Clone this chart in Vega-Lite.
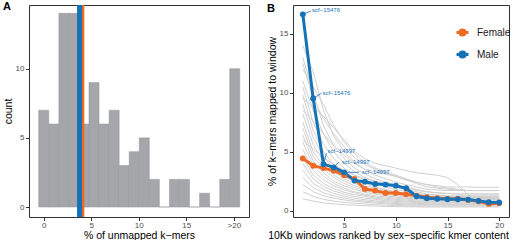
{
"$schema":"https://vega.github.io/schema/vega-lite/v6.json",
"padding":{"left":2,"top":0,"right":0,"bottom":0},
"spacing":16,
"resolve":{"scale":{"color":"independent"},"legend":{"color":"independent"}},
"config":{
 "font":"Liberation Sans",
 "view":{"stroke":"#333333","strokeWidth":1},
 "axis":{"domain":false,"grid":false,"tickColor":"#333333","tickSize":3.5,"tickWidth":1,"labelColor":"#4D4D4D","labelFontSize":8,"labelPadding":1,"titleFontSize":10.5,"titleFontWeight":"normal","titleColor":"#000000","titlePadding":1},
 "axisY":{"labelPadding":1.5,"titlePadding":2},
 "title":{"fontSize":11,"fontWeight":"bold","anchor":"start","frame":"bounds","offset":0,"baseline":"top","dy":13,"color":"#000000"}
},
"datasets":{
 "hist":[
  {"bin_start":-0.53,"bin_end":0.53,"count":7},
  {"bin_start":0.53,"bin_end":1.59,"count":6},
  {"bin_start":1.59,"bin_end":2.65,"count":14},
  {"bin_start":2.65,"bin_end":3.70,"count":14},
  {"bin_start":3.70,"bin_end":4.76,"count":6},
  {"bin_start":4.76,"bin_end":5.82,"count":9},
  {"bin_start":5.82,"bin_end":6.88,"count":6},
  {"bin_start":6.88,"bin_end":7.94,"count":7},
  {"bin_start":7.94,"bin_end":8.99,"count":3},
  {"bin_start":8.99,"bin_end":10.05,"count":4},
  {"bin_start":10.05,"bin_end":11.11,"count":5},
  {"bin_start":11.11,"bin_end":12.17,"count":2},
  {"bin_start":12.17,"bin_end":13.23,"count":0},
  {"bin_start":13.23,"bin_end":14.28,"count":2},
  {"bin_start":14.28,"bin_end":15.34,"count":2},
  {"bin_start":15.34,"bin_end":16.40,"count":0},
  {"bin_start":16.40,"bin_end":17.46,"count":1},
  {"bin_start":17.46,"bin_end":18.52,"count":0},
  {"bin_start":18.52,"bin_end":19.57,"count":2},
  {"bin_start":19.57,"bin_end":20.63,"count":10}
 ],
 "vlines":[{"sex":"Female","value":4.01},{"sex":"Male","value":3.77}],
 "main":[
  {"sex":"Female","rank":1,"pct":4.42},{"sex":"Female","rank":2,"pct":3.8},{"sex":"Female","rank":3,"pct":3.6},{"sex":"Female","rank":4,"pct":3.38},{"sex":"Female","rank":5,"pct":3.0},{"sex":"Female","rank":6,"pct":2.68},{"sex":"Female","rank":7,"pct":1.83},{"sex":"Female","rank":8,"pct":1.69},{"sex":"Female","rank":9,"pct":1.49},{"sex":"Female","rank":10,"pct":1.49},{"sex":"Female","rank":11,"pct":1.38},{"sex":"Female","rank":12,"pct":1.27},{"sex":"Female","rank":13,"pct":1.13},{"sex":"Female","rank":14,"pct":1.04},{"sex":"Female","rank":15,"pct":0.99},{"sex":"Female","rank":16,"pct":0.99},{"sex":"Female","rank":17,"pct":0.9},{"sex":"Female","rank":18,"pct":0.79},{"sex":"Female","rank":19,"pct":0.56},{"sex":"Female","rank":20,"pct":0.62},
  {"sex":"Male","rank":1,"pct":16.66},{"sex":"Male","rank":2,"pct":9.52},{"sex":"Male","rank":3,"pct":3.94},{"sex":"Male","rank":4,"pct":3.66},{"sex":"Male","rank":5,"pct":3.24},{"sex":"Male","rank":6,"pct":2.54},{"sex":"Male","rank":7,"pct":2.45},{"sex":"Male","rank":8,"pct":2.25},{"sex":"Male","rank":9,"pct":2.2},{"sex":"Male","rank":10,"pct":2.11},{"sex":"Male","rank":11,"pct":1.89},{"sex":"Male","rank":12,"pct":1.21},{"sex":"Male","rank":13,"pct":1.04},{"sex":"Male","rank":14,"pct":0.99},{"sex":"Male","rank":15,"pct":0.96},{"sex":"Male","rank":16,"pct":0.96},{"sex":"Male","rank":17,"pct":0.93},{"sex":"Male","rank":18,"pct":0.82},{"sex":"Male","rank":19,"pct":0.7},{"sex":"Male","rank":20,"pct":0.68}
 ],
 "ann":[
  {"label":"scf−15476","rank":1,"pct":16.66,"lx":1.8,"ly":16.95,"tx":1.9,"ty":17.0},
  {"label":"scf−15476","rank":2,"pct":9.52,"lx":2.8,"ly":9.95,"tx":2.9,"ty":9.99},
  {"label":"scf−14997","rank":3,"pct":3.94,"lx":3.29,"ly":4.87,"tx":3.39,"ty":5.07},
  {"label":"scf−14997","rank":4,"pct":3.66,"lx":4.45,"ly":4.08,"tx":4.77,"ty":4.14},
  {"label":"scf−14997","rank":5.2,"pct":3.24,"lx":6.45,"ly":3.25,"tx":6.7,"ty":3.23}
 ],
 "bg":[
  {"i":1,"r":1,"p":9.5},{"i":1,"r":2,"p":8.8},{"i":1,"r":3,"p":8.0},{"i":1,"r":4,"p":7.0},{"i":1,"r":5,"p":6.0},{"i":1,"r":6,"p":5.0},{"i":1,"r":7,"p":4.4},{"i":1,"r":8,"p":4.0},{"i":1,"r":9,"p":3.8},{"i":1,"r":10,"p":3.6},{"i":1,"r":11,"p":3.4},{"i":1,"r":12,"p":3.2},{"i":1,"r":13,"p":3.1},{"i":1,"r":14,"p":3.0},{"i":1,"r":15,"p":2.8},{"i":1,"r":16,"p":2.2},{"i":1,"r":17,"p":1.3},{"i":1,"r":18,"p":1.1},{"i":1,"r":19,"p":1.0},{"i":1,"r":20,"p":0.95},
  {"i":2,"r":1,"p":12.0},{"i":2,"r":2,"p":10.5},{"i":2,"r":3,"p":9.0},{"i":2,"r":4,"p":7.2},{"i":2,"r":5,"p":5.8},{"i":2,"r":6,"p":4.8},{"i":2,"r":7,"p":4.1},{"i":2,"r":8,"p":3.6},{"i":2,"r":9,"p":3.3},{"i":2,"r":10,"p":3.0},{"i":2,"r":11,"p":2.7},{"i":2,"r":12,"p":2.4},{"i":2,"r":13,"p":2.2},{"i":2,"r":14,"p":2.1},{"i":2,"r":15,"p":2.0},{"i":2,"r":16,"p":2.0},{"i":2,"r":17,"p":2.0},{"i":2,"r":18,"p":1.97},{"i":2,"r":19,"p":1.97},{"i":2,"r":20,"p":1.97},
  {"i":3,"r":1,"p":14.0},{"i":3,"r":2,"p":11.8},{"i":3,"r":3,"p":8.5},{"i":3,"r":4,"p":6.3},{"i":3,"r":5,"p":5.0},{"i":3,"r":6,"p":4.1},{"i":3,"r":7,"p":3.5},{"i":3,"r":8,"p":3.0},{"i":3,"r":9,"p":2.7},{"i":3,"r":10,"p":2.4},{"i":3,"r":11,"p":2.2},{"i":3,"r":12,"p":2.0},{"i":3,"r":13,"p":1.8},{"i":3,"r":14,"p":1.75},{"i":3,"r":15,"p":1.7},{"i":3,"r":16,"p":1.7},{"i":3,"r":17,"p":1.7},{"i":3,"r":18,"p":1.7},{"i":3,"r":19,"p":1.7},{"i":3,"r":20,"p":1.7},
  {"i":4,"r":1,"p":13.0},{"i":4,"r":2,"p":10.0},{"i":4,"r":3,"p":7.2},{"i":4,"r":4,"p":5.5},{"i":4,"r":5,"p":4.4},{"i":4,"r":6,"p":3.6},{"i":4,"r":7,"p":3.1},{"i":4,"r":8,"p":2.7},{"i":4,"r":9,"p":2.4},{"i":4,"r":10,"p":2.2},{"i":4,"r":11,"p":2.0},{"i":4,"r":12,"p":1.8},{"i":4,"r":13,"p":1.6},{"i":4,"r":14,"p":1.5},{"i":4,"r":15,"p":1.45},{"i":4,"r":16,"p":1.4},{"i":4,"r":17,"p":1.4},{"i":4,"r":18,"p":1.4},{"i":4,"r":19,"p":1.4},{"i":4,"r":20,"p":1.4},
  {"i":5,"r":1,"p":11.0},{"i":5,"r":2,"p":8.5},{"i":5,"r":3,"p":6.5},{"i":5,"r":4,"p":5.0},{"i":5,"r":5,"p":4.0},{"i":5,"r":6,"p":3.3},{"i":5,"r":7,"p":2.8},{"i":5,"r":8,"p":2.5},{"i":5,"r":9,"p":2.2},{"i":5,"r":10,"p":2.0},{"i":5,"r":11,"p":1.8},{"i":5,"r":12,"p":1.6},{"i":5,"r":13,"p":1.4},{"i":5,"r":14,"p":1.3},{"i":5,"r":15,"p":1.2},{"i":5,"r":16,"p":1.15},{"i":5,"r":17,"p":1.12},{"i":5,"r":18,"p":1.12},{"i":5,"r":19,"p":1.12},{"i":5,"r":20,"p":1.12},
  {"i":6,"r":1,"p":10.5},{"i":6,"r":2,"p":7.5},{"i":6,"r":3,"p":5.6},{"i":6,"r":4,"p":4.4},{"i":6,"r":5,"p":3.6},{"i":6,"r":6,"p":3.0},{"i":6,"r":7,"p":2.6},{"i":6,"r":8,"p":2.3},{"i":6,"r":9,"p":2.0},{"i":6,"r":10,"p":1.8},{"i":6,"r":11,"p":1.6},{"i":6,"r":12,"p":1.45},{"i":6,"r":13,"p":1.35},{"i":6,"r":14,"p":1.3},{"i":6,"r":15,"p":1.25},{"i":6,"r":16,"p":1.25},{"i":6,"r":17,"p":1.25},{"i":6,"r":18,"p":1.25},{"i":6,"r":19,"p":1.25},{"i":6,"r":20,"p":1.25},
  {"i":7,"r":1,"p":9.8},{"i":7,"r":2,"p":6.8},{"i":7,"r":3,"p":5.0},{"i":7,"r":4,"p":3.9},{"i":7,"r":5,"p":3.2},{"i":7,"r":6,"p":2.7},{"i":7,"r":7,"p":2.3},{"i":7,"r":8,"p":2.0},{"i":7,"r":9,"p":1.8},{"i":7,"r":10,"p":1.6},{"i":7,"r":11,"p":1.45},{"i":7,"r":12,"p":1.35},{"i":7,"r":13,"p":1.25},{"i":7,"r":14,"p":1.2},{"i":7,"r":15,"p":1.2},{"i":7,"r":16,"p":1.2},{"i":7,"r":17,"p":1.2},{"i":7,"r":18,"p":1.2},{"i":7,"r":19,"p":1.2},{"i":7,"r":20,"p":1.2},
  {"i":8,"r":1,"p":9.0},{"i":8,"r":2,"p":6.2},{"i":8,"r":3,"p":4.6},{"i":8,"r":4,"p":3.6},{"i":8,"r":5,"p":2.9},{"i":8,"r":6,"p":2.5},{"i":8,"r":7,"p":2.1},{"i":8,"r":8,"p":1.9},{"i":8,"r":9,"p":1.7},{"i":8,"r":10,"p":1.5},{"i":8,"r":11,"p":1.4},{"i":8,"r":12,"p":1.3},{"i":8,"r":13,"p":1.2},{"i":8,"r":14,"p":1.15},{"i":8,"r":15,"p":1.1},{"i":8,"r":16,"p":1.1},{"i":8,"r":17,"p":1.1},{"i":8,"r":18,"p":1.1},{"i":8,"r":19,"p":1.1},{"i":8,"r":20,"p":1.1},
  {"i":9,"r":1,"p":8.2},{"i":9,"r":2,"p":5.6},{"i":9,"r":3,"p":4.2},{"i":9,"r":4,"p":3.3},{"i":9,"r":5,"p":2.7},{"i":9,"r":6,"p":2.3},{"i":9,"r":7,"p":2.0},{"i":9,"r":8,"p":1.75},{"i":9,"r":9,"p":1.6},{"i":9,"r":10,"p":1.45},{"i":9,"r":11,"p":1.35},{"i":9,"r":12,"p":1.25},{"i":9,"r":13,"p":1.15},{"i":9,"r":14,"p":1.1},{"i":9,"r":15,"p":1.05},{"i":9,"r":16,"p":1.05},{"i":9,"r":17,"p":1.05},{"i":9,"r":18,"p":1.05},{"i":9,"r":19,"p":1.05},{"i":9,"r":20,"p":1.05},
  {"i":10,"r":1,"p":7.5},{"i":10,"r":2,"p":5.0},{"i":10,"r":3,"p":3.8},{"i":10,"r":4,"p":3.0},{"i":10,"r":5,"p":2.5},{"i":10,"r":6,"p":2.1},{"i":10,"r":7,"p":1.85},{"i":10,"r":8,"p":1.65},{"i":10,"r":9,"p":1.5},{"i":10,"r":10,"p":1.35},{"i":10,"r":11,"p":1.25},{"i":10,"r":12,"p":1.15},{"i":10,"r":13,"p":1.05},{"i":10,"r":14,"p":1.0},{"i":10,"r":15,"p":1.0},{"i":10,"r":16,"p":1.0},{"i":10,"r":17,"p":1.0},{"i":10,"r":18,"p":1.0},{"i":10,"r":19,"p":1.0},{"i":10,"r":20,"p":1.0},
  {"i":11,"r":1,"p":7.0},{"i":11,"r":2,"p":4.6},{"i":11,"r":3,"p":3.5},{"i":11,"r":4,"p":2.8},{"i":11,"r":5,"p":2.3},{"i":11,"r":6,"p":1.95},{"i":11,"r":7,"p":1.7},{"i":11,"r":8,"p":1.5},{"i":11,"r":9,"p":1.35},{"i":11,"r":10,"p":1.25},{"i":11,"r":11,"p":1.15},{"i":11,"r":12,"p":1.05},{"i":11,"r":13,"p":0.98},{"i":11,"r":14,"p":0.95},{"i":11,"r":15,"p":0.95},{"i":11,"r":16,"p":0.95},{"i":11,"r":17,"p":0.95},{"i":11,"r":18,"p":0.95},{"i":11,"r":19,"p":0.95},{"i":11,"r":20,"p":0.95},
  {"i":12,"r":1,"p":6.4},{"i":12,"r":2,"p":4.2},{"i":12,"r":3,"p":3.2},{"i":12,"r":4,"p":2.5},{"i":12,"r":5,"p":2.1},{"i":12,"r":6,"p":1.8},{"i":12,"r":7,"p":1.55},{"i":12,"r":8,"p":1.4},{"i":12,"r":9,"p":1.25},{"i":12,"r":10,"p":1.15},{"i":12,"r":11,"p":1.05},{"i":12,"r":12,"p":0.97},{"i":12,"r":13,"p":0.92},{"i":12,"r":14,"p":0.9},{"i":12,"r":15,"p":0.9},{"i":12,"r":16,"p":0.9},{"i":12,"r":17,"p":0.9},{"i":12,"r":18,"p":0.9},{"i":12,"r":19,"p":0.9},{"i":12,"r":20,"p":0.9},
  {"i":13,"r":1,"p":5.8},{"i":13,"r":2,"p":3.8},{"i":13,"r":3,"p":2.9},{"i":13,"r":4,"p":2.3},{"i":13,"r":5,"p":1.9},{"i":13,"r":6,"p":1.6},{"i":13,"r":7,"p":1.4},{"i":13,"r":8,"p":1.25},{"i":13,"r":9,"p":1.15},{"i":13,"r":10,"p":1.05},{"i":13,"r":11,"p":0.97},{"i":13,"r":12,"p":0.9},{"i":13,"r":13,"p":0.85},{"i":13,"r":14,"p":0.82},{"i":13,"r":15,"p":0.82},{"i":13,"r":16,"p":0.82},{"i":13,"r":17,"p":0.82},{"i":13,"r":18,"p":0.82},{"i":13,"r":19,"p":0.82},{"i":13,"r":20,"p":0.82},
  {"i":14,"r":1,"p":5.2},{"i":14,"r":2,"p":3.4},{"i":14,"r":3,"p":2.6},{"i":14,"r":4,"p":2.1},{"i":14,"r":5,"p":1.75},{"i":14,"r":6,"p":1.5},{"i":14,"r":7,"p":1.3},{"i":14,"r":8,"p":1.15},{"i":14,"r":9,"p":1.05},{"i":14,"r":10,"p":0.95},{"i":14,"r":11,"p":0.88},{"i":14,"r":12,"p":0.82},{"i":14,"r":13,"p":0.78},{"i":14,"r":14,"p":0.76},{"i":14,"r":15,"p":0.75},{"i":14,"r":16,"p":0.75},{"i":14,"r":17,"p":0.75},{"i":14,"r":18,"p":0.75},{"i":14,"r":19,"p":0.75},{"i":14,"r":20,"p":0.75},
  {"i":15,"r":1,"p":4.6},{"i":15,"r":2,"p":3.0},{"i":15,"r":3,"p":2.3},{"i":15,"r":4,"p":1.85},{"i":15,"r":5,"p":1.55},{"i":15,"r":6,"p":1.35},{"i":15,"r":7,"p":1.2},{"i":15,"r":8,"p":1.05},{"i":15,"r":9,"p":0.95},{"i":15,"r":10,"p":0.87},{"i":15,"r":11,"p":0.8},{"i":15,"r":12,"p":0.75},{"i":15,"r":13,"p":0.72},{"i":15,"r":14,"p":0.7},{"i":15,"r":15,"p":0.7},{"i":15,"r":16,"p":0.7},{"i":15,"r":17,"p":0.7},{"i":15,"r":18,"p":0.7},{"i":15,"r":19,"p":0.7},{"i":15,"r":20,"p":0.7},
  {"i":16,"r":1,"p":4.0},{"i":16,"r":2,"p":2.7},{"i":16,"r":3,"p":2.05},{"i":16,"r":4,"p":1.65},{"i":16,"r":5,"p":1.4},{"i":16,"r":6,"p":1.2},{"i":16,"r":7,"p":1.05},{"i":16,"r":8,"p":0.95},{"i":16,"r":9,"p":0.85},{"i":16,"r":10,"p":0.78},{"i":16,"r":11,"p":0.72},{"i":16,"r":12,"p":0.68},{"i":16,"r":13,"p":0.65},{"i":16,"r":14,"p":0.63},{"i":16,"r":15,"p":0.62},{"i":16,"r":16,"p":0.62},{"i":16,"r":17,"p":0.62},{"i":16,"r":18,"p":0.62},{"i":16,"r":19,"p":0.62},{"i":16,"r":20,"p":0.62},
  {"i":17,"r":1,"p":3.4},{"i":17,"r":2,"p":2.3},{"i":17,"r":3,"p":1.8},{"i":17,"r":4,"p":1.45},{"i":17,"r":5,"p":1.22},{"i":17,"r":6,"p":1.05},{"i":17,"r":7,"p":0.92},{"i":17,"r":8,"p":0.82},{"i":17,"r":9,"p":0.75},{"i":17,"r":10,"p":0.68},{"i":17,"r":11,"p":0.63},{"i":17,"r":12,"p":0.6},{"i":17,"r":13,"p":0.58},{"i":17,"r":14,"p":0.56},{"i":17,"r":15,"p":0.55},{"i":17,"r":16,"p":0.55},{"i":17,"r":17,"p":0.55},{"i":17,"r":18,"p":0.55},{"i":17,"r":19,"p":0.55},{"i":17,"r":20,"p":0.55},
  {"i":18,"r":1,"p":2.8},{"i":18,"r":2,"p":1.95},{"i":18,"r":3,"p":1.5},{"i":18,"r":4,"p":1.25},{"i":18,"r":5,"p":1.05},{"i":18,"r":6,"p":0.9},{"i":18,"r":7,"p":0.8},{"i":18,"r":8,"p":0.72},{"i":18,"r":9,"p":0.65},{"i":18,"r":10,"p":0.6},{"i":18,"r":11,"p":0.56},{"i":18,"r":12,"p":0.53},{"i":18,"r":13,"p":0.5},{"i":18,"r":14,"p":0.5},{"i":18,"r":15,"p":0.5},{"i":18,"r":16,"p":0.5},{"i":18,"r":17,"p":0.5},{"i":18,"r":18,"p":0.5},{"i":18,"r":19,"p":0.5},{"i":18,"r":20,"p":0.5},
  {"i":19,"r":1,"p":2.2},{"i":19,"r":2,"p":1.6},{"i":19,"r":3,"p":1.25},{"i":19,"r":4,"p":1.05},{"i":19,"r":5,"p":0.9},{"i":19,"r":6,"p":0.78},{"i":19,"r":7,"p":0.7},{"i":19,"r":8,"p":0.63},{"i":19,"r":9,"p":0.57},{"i":19,"r":10,"p":0.52},{"i":19,"r":11,"p":0.49},{"i":19,"r":12,"p":0.46},{"i":19,"r":13,"p":0.45},{"i":19,"r":14,"p":0.45},{"i":19,"r":15,"p":0.45},{"i":19,"r":16,"p":0.45},{"i":19,"r":17,"p":0.45},{"i":19,"r":18,"p":0.45},{"i":19,"r":19,"p":0.45},{"i":19,"r":20,"p":0.45},
  {"i":20,"r":1,"p":1.6},{"i":20,"r":2,"p":1.2},{"i":20,"r":3,"p":0.95},{"i":20,"r":4,"p":0.8},{"i":20,"r":5,"p":0.7},{"i":20,"r":6,"p":0.62},{"i":20,"r":7,"p":0.56},{"i":20,"r":8,"p":0.5},{"i":20,"r":9,"p":0.46},{"i":20,"r":10,"p":0.42},{"i":20,"r":11,"p":0.4},{"i":20,"r":12,"p":0.38},{"i":20,"r":13,"p":0.38},{"i":20,"r":14,"p":0.38},{"i":20,"r":15,"p":0.38},{"i":20,"r":16,"p":0.38},{"i":20,"r":17,"p":0.38},{"i":20,"r":18,"p":0.38},{"i":20,"r":19,"p":0.38},{"i":20,"r":20,"p":0.38},
  {"i":21,"r":1,"p":1.0},{"i":21,"r":2,"p":0.8},{"i":21,"r":3,"p":0.65},{"i":21,"r":4,"p":0.56},{"i":21,"r":5,"p":0.5},{"i":21,"r":6,"p":0.45},{"i":21,"r":7,"p":0.41},{"i":21,"r":8,"p":0.38},{"i":21,"r":9,"p":0.35},{"i":21,"r":10,"p":0.33},{"i":21,"r":11,"p":0.32},{"i":21,"r":12,"p":0.31},{"i":21,"r":13,"p":0.3},{"i":21,"r":14,"p":0.3},{"i":21,"r":15,"p":0.3},{"i":21,"r":16,"p":0.3},{"i":21,"r":17,"p":0.3},{"i":21,"r":18,"p":0.3},{"i":21,"r":19,"p":0.3},{"i":21,"r":20,"p":0.3},
  {"i":22,"r":1,"p":12.5},{"i":22,"r":2,"p":9.5},{"i":22,"r":3,"p":7.8},{"i":22,"r":4,"p":6.5},{"i":22,"r":5,"p":5.4},{"i":22,"r":6,"p":4.5},{"i":22,"r":7,"p":3.9},{"i":22,"r":8,"p":3.5},{"i":22,"r":9,"p":3.2},{"i":22,"r":10,"p":2.9},{"i":22,"r":11,"p":2.6},{"i":22,"r":12,"p":2.4},{"i":22,"r":13,"p":2.2},{"i":22,"r":14,"p":2.0},{"i":22,"r":15,"p":1.9},{"i":22,"r":16,"p":1.8},{"i":22,"r":17,"p":1.69},{"i":22,"r":18,"p":1.69},{"i":22,"r":19,"p":1.69},{"i":22,"r":20,"p":1.69},
  {"i":23,"r":1,"p":6.0},{"i":23,"r":2,"p":5.2},{"i":23,"r":3,"p":4.5},{"i":23,"r":4,"p":3.9},{"i":23,"r":5,"p":3.4},{"i":23,"r":6,"p":3.0},{"i":23,"r":7,"p":2.7},{"i":23,"r":8,"p":2.5},{"i":23,"r":9,"p":2.3},{"i":23,"r":10,"p":2.1},{"i":23,"r":11,"p":1.9},{"i":23,"r":12,"p":1.7},{"i":23,"r":13,"p":1.6},{"i":23,"r":14,"p":1.5},{"i":23,"r":15,"p":1.45},{"i":23,"r":16,"p":1.4},{"i":23,"r":17,"p":1.4},{"i":23,"r":18,"p":1.4},{"i":23,"r":19,"p":1.4},{"i":23,"r":20,"p":1.4},
  {"i":24,"r":1,"p":8.5},{"i":24,"r":2,"p":7.6},{"i":24,"r":3,"p":6.5},{"i":24,"r":4,"p":5.5},{"i":24,"r":5,"p":4.7},{"i":24,"r":6,"p":4.0},{"i":24,"r":7,"p":3.5},{"i":24,"r":8,"p":3.3},{"i":24,"r":9,"p":3.1},{"i":24,"r":10,"p":2.9},{"i":24,"r":11,"p":2.6},{"i":24,"r":12,"p":2.3},{"i":24,"r":13,"p":2.0},{"i":24,"r":14,"p":1.9},{"i":24,"r":15,"p":1.8},{"i":24,"r":16,"p":1.75},{"i":24,"r":17,"p":1.7},{"i":24,"r":18,"p":1.7},{"i":24,"r":19,"p":1.7},{"i":24,"r":20,"p":1.7}
 ]
},
"hconcat":[
 {
  "title":{"text":"A"},
  "width":220,"height":212,
  "layer":[
   {"data":{"name":"hist"},
    "mark":{"type":"rect","fill":"#A4A6A9","stroke":"#96989B","strokeWidth":0.5},
    "encoding":{
     "x":{"field":"bin_start","type":"quantitative","scale":{"domain":[-1.55,21.6],"nice":false},"axis":{"values":[0,5,10,15,20],"labelExpr":"datum.value == 20 ? '>20' : datum.label","title":"% of unmapped k−mers"}},
     "x2":{"field":"bin_end"},
     "y":{"field":"count","type":"quantitative","scale":{"domain":[-0.72,14.6],"nice":false},"axis":{"values":[0,5,10],"title":"count"}},
     "y2":{"datum":0}
    }},
   {"data":{"name":"vlines"},
    "mark":{"type":"rule","strokeWidth":5},
    "encoding":{
     "x":{"field":"value","type":"quantitative"},
     "color":{"field":"sex","type":"nominal","scale":{"domain":["Female","Male"],"range":["#EE6A25","#1672B6"]},"legend":null}
    }}
  ]
 },
 {
  "title":{"text":"B"},
  "width":216,"height":212,
  "layer":[
   {"data":{"name":"bg"},
    "mark":{"type":"line","stroke":"#D0D0D0","strokeWidth":1},
    "encoding":{
     "x":{"field":"r","type":"quantitative","scale":{"domain":[0.05,20.95],"nice":false},"axis":{"values":[5,10,15,20],"title":"10Kb windows ranked by sex−specific kmer content","titleX":95}},
     "y":{"field":"p","type":"quantitative","scale":{"domain":[-0.55,17.45],"nice":false},"axis":{"values":[0,5,10,15],"title":"% of k−mers mapped to window"}},
     "detail":{"field":"i","type":"nominal"}
    }},
   {"data":{"name":"main"},
    "mark":{"type":"line","strokeWidth":3},
    "encoding":{
     "x":{"field":"rank","type":"quantitative"},
     "y":{"field":"pct","type":"quantitative"},
     "color":{"field":"sex","type":"nominal","scale":{"domain":["Female","Male"],"range":["#EE6A25","#1672B6"]},
      "legend":{"orient":"none","legendX":162,"legendY":20,"title":null,"padding":0,"symbolType":"M-1,0L1,0M-0.42,0A0.42,0.42,0,1,0,0.42,0A0.42,0.42,0,1,0,-0.42,0Z","symbolSize":144,"symbolStrokeWidth":3,"labelFontSize":10,"labelColor":"#1A1A1A","labelOffset":7,"rowPadding":3}}
    }},
   {"data":{"name":"main"},
    "mark":{"type":"circle","size":34,"opacity":1},
    "encoding":{
     "x":{"field":"rank","type":"quantitative"},
     "y":{"field":"pct","type":"quantitative"},
     "color":{"field":"sex","type":"nominal"}
    }},
   {"data":{"name":"ann"},
    "mark":{"type":"rule","color":"#1672B6","strokeWidth":0.8},
    "encoding":{
     "x":{"field":"rank","type":"quantitative"},
     "y":{"field":"pct","type":"quantitative"},
     "x2":{"field":"lx"},
     "y2":{"field":"ly"}
    }},
   {"data":{"name":"ann"},
    "mark":{"type":"text","align":"left","baseline":"middle","fontSize":6,"color":"#1672B6"},
    "encoding":{
     "x":{"field":"tx","type":"quantitative"},
     "y":{"field":"ty","type":"quantitative"},
     "text":{"field":"label"}
    }}
  ]
 }
]
}
